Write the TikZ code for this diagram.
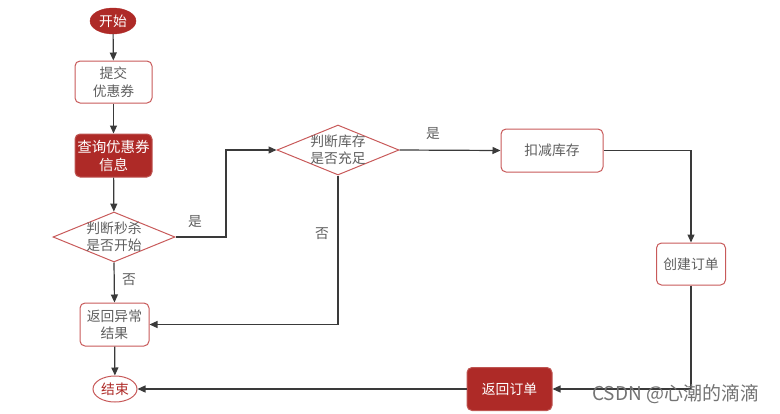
\documentclass[tikz,border=0pt]{standalone}
\usepackage{fontspec}
\setmainfont{Noto Sans CJK SC}
\usetikzlibrary{shapes.geometric,arrows.meta}
\definecolor{darkred}{HTML}{AE2A27}
\definecolor{bordred}{HTML}{C85A5A}
\definecolor{txtgray}{HTML}{5F5F5F}
\definecolor{linec}{HTML}{3A3A3A}
\tikzset{
  base/.style={font=\fontsize{13.8}{17.5}\selectfont, align=center, inner sep=0pt},
  oval/.style={base, ellipse, minimum width=46pt, minimum height=26pt},
  whitebox/.style={base, rectangle, rounded corners=5pt, draw=bordred, line width=1pt, fill=white, text=txtgray},
  redbox/.style={base, rectangle, rounded corners=5pt, draw=darkred!80!white, line width=1pt, fill=darkred, text=white},
  dia/.style={diamond, draw=bordred, line width=1pt, minimum width=122pt, minimum height=50pt, inner sep=0pt},
  txt/.style={base, text=txtgray},
  lab/.style={base, text=txtgray},
  arr/.style={draw=linec, line width=1.2pt, -{Triangle[length=8pt,width=7pt]}},
}
\begin{document}
\begin{tikzpicture}[x=1pt,y=-1pt]
\useasboundingbox (0,0) rectangle (780,413);
\node[oval, fill=darkred, draw=darkred, text=white] (start) at (113,21) {开始};
\node[whitebox, minimum width=77pt, minimum height=42pt] (submit) at (113.5,82) {提交\\优惠券};
\node[redbox, minimum width=77pt, minimum height=43pt, font=\fontsize{14.5}{18}\selectfont] (query) at (113.5,155.5) {查询优惠券\\信息};
\node[dia] (d1) at (114,237) {};
\node[txt] at (d1) {判断秒杀\\是否开始};
\node[whitebox, minimum width=69pt, minimum height=43pt] (err) at (114.5,324.5) {返回异常\\结果};
\node[oval, draw=bordred, line width=1pt, fill=white, text=darkred, minimum width=44pt] (end) at (115,389) {结束};
\node[dia] (d2) at (338,150) {};
\node[txt] at (d2) {判断库存\\是否充足};
\node[whitebox, minimum width=102pt, minimum height=43pt] (deduct) at (552,150.5) {扣减库存};
\node[whitebox, minimum width=69pt, minimum height=42pt] (create) at (691,264) {创建订单};
\node[redbox, minimum width=85pt, minimum height=43pt] (ret) at (509.5,389) {返回订单};
\coordinate (j1) at (226,237);
\draw[arr] (start) -- (submit);
\draw[arr] (submit) -- (query);
\draw[arr] (query) -- (d1);
\draw[arr] (d1.east) -- (j1) |- (d2.west);
\draw[arr] (d2.east) -- (deduct.west);
\draw[arr] (deduct.east) -| (create.north);
\draw[arr] (create.south) |- (ret.east);
\draw[arr] (ret.west) -- (end.east);
\draw[arr] (d1.south) -- (err.north);
\draw[arr] (d2.south) |- (err.east);
\draw[arr] (err) -- (end);
\node[lab] (y1) at (195,222) {是};
\node[lab] (y2) at (433,134) {是};
\node[lab] (n1) at (129,280) {否};
\node[lab] (n2) at (322,234) {否};
\node[base, text=black!55, font=\fontsize{19}{21}\selectfont, anchor=west] (wm) at (592,394) {CSDN @心潮的滴滴};
\end{tikzpicture}
\end{document}
